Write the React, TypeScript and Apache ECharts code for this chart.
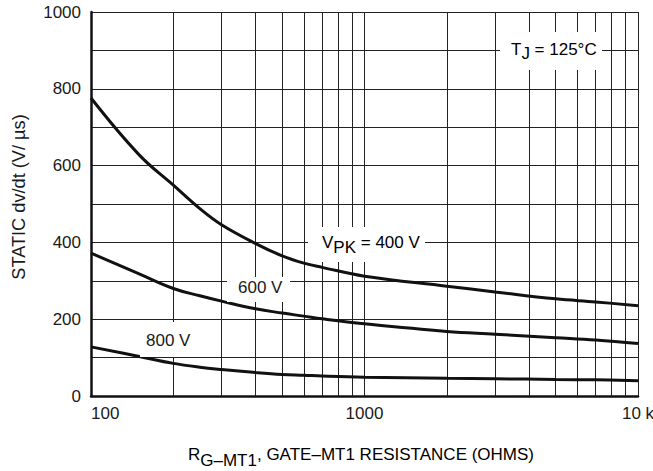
import React, { useEffect, useRef } from 'react';
import * as echarts from 'echarts';

// Gate–MT1 resistance (ohms)
const resistance = [100, 150, 200, 250, 300, 400, 500, 600, 700, 1000, 2000, 3000, 5000, 7000, 10000];
// Static dv/dt (V/µs) for each peak voltage
const dvdt400 = [776, 628, 549, 488, 446, 397, 365, 346, 335, 312, 286, 271, 253, 245, 235];
const dvdt600 = [372, 318, 280, 261, 247, 227, 216, 208, 201, 188, 168, 161, 152, 146, 137];
const dvdt800 = [128, 103, 85, 75, 69, 61, 56, 54, 52, 49, 46, 45, 43, 42, 40];

const minorGridX = [200, 300, 400, 500, 600, 700, 800, 900, 2000, 3000, 4000, 5000, 6000, 7000, 8000, 9000];
const yLabelStep = 200;
const xTickLabels: Record<number, string> = { 100: '100', 1000: '1000', 10000: '10 k' };

const FONT = '"Liberation Sans", Arial, Helvetica, sans-serif';
const INK = '#1a1a1a';

const pairs = (ys: number[]) => resistance.map((x, i) => [x, ys[i]]);

export default function App() {
  const ref = useRef<HTMLDivElement>(null);
  useEffect(() => {
    if (!ref.current) return;
    const chart = echarts.init(ref.current, undefined, { renderer: 'svg' });
    const curve = (name: string, ys: number[]) => ({
      name,
      type: 'line',
      data: pairs(ys),
      smooth: 0.4,
      showSymbol: false,
      symbol: 'none',
      z: 5,
      lineStyle: { color: '#111', width: 3 },
      silent: true,
    });
    const main = { fontSize: 17, fontFamily: FONT, color: INK, lineHeight: 17, verticalAlign: 'top' };
    const sub = (p: number) => ({ ...main, padding: [p, 0, 0, 0] });
    chart.setOption({
      animation: false,
      backgroundColor: '#fff',
      grid: { left: 91, right: 15, top: 12, bottom: 75, containLabel: false, outerBoundsMode: 'none' },
      xAxis: {
        type: 'log',
        logBase: 10,
        min: 100,
        max: 10000,
        axisLine: { show: true, onZero: false, lineStyle: { color: '#111', width: 2.5 } },
        axisTick: { show: false },
        minorTick: { show: false },
        axisLabel: {
          show: true,
          margin: 9,
          fontSize: 17,
          fontFamily: FONT,
          color: INK,
          alignMinLabel: 'left',
          alignMaxLabel: 'center',
          formatter: (v: number) => xTickLabels[Math.round(v)] ?? '',
        },
        splitLine: { show: true, lineStyle: { color: '#222', width: 1 } },
      },
      yAxis: {
        type: 'value',
        min: 0,
        max: 1000,
        interval: 100,
        axisLine: { show: true, onZero: false, lineStyle: { color: '#111', width: 2.5 } },
        axisTick: { show: false },
        axisLabel: {
          margin: 10,
          fontSize: 17,
          fontFamily: FONT,
          color: INK,
          formatter: (v: number) => (v % yLabelStep === 0 ? String(v) : ''),
        },
        splitLine: { show: true, lineStyle: { color: '#222', width: 1 } },
      },
      series: [
        {
          name: 'grid',
          type: 'line',
          data: [],
          z: 1,
          silent: true,
          markLine: {
            silent: true,
            symbol: ['none', 'none'],
            label: { show: false },
            lineStyle: { color: '#222', width: 1, type: 'solid' },
            emphasis: { disabled: true },
            data: minorGridX.map((v) => ({ xAxis: v })),
          },
        },
        curve('VPK = 400 V', dvdt400),
        curve('600 V', dvdt600),
        curve('800 V', dvdt800),
      ],
      graphic: [
        { type: 'rect', z: 20, shape: { x: 500, y: 32, width: 102, height: 38 }, style: { fill: '#fff' } },
        {
          type: 'text', z: 21, x: 511, y: 41.4,
          style: { text: '{n|T}{s|J}{n| = 125°C}', align: 'left', verticalAlign: 'top', rich: { n: main, s: sub(4) } },
        },
        { type: 'rect', z: 20, shape: { x: 308, y: 227, width: 117, height: 35 }, style: { fill: '#fff' } },
        {
          type: 'text', z: 21, x: 322, y: 234.4,
          style: { text: '{n|V}{s|PK}{n| = 400 V}', align: 'left', verticalAlign: 'top', rich: { n: main, s: sub(5) } },
        },
        { type: 'rect', z: 20, shape: { x: 227, y: 277, width: 63, height: 25 }, style: { fill: '#fff' } },
        {
          type: 'text', z: 21, x: 238, y: 279.4,
          style: { text: '600 V', align: 'left', verticalAlign: 'top', fontSize: 17, fontFamily: FONT, fill: INK },
        },
        { type: 'rect', z: 20, shape: { x: 140, y: 322, width: 57, height: 35 }, style: { fill: '#fff' } },
        {
          type: 'text', z: 21, x: 146, y: 332.4,
          style: { text: '800 V', align: 'left', verticalAlign: 'top', fontSize: 17, fontFamily: FONT, fill: INK },
        },
        {
          type: 'text', z: 21, x: 188, y: 446,
          style: {
            text: '{n|R}{s|G–MT1}{n|, GATE–MT1 RESISTANCE (OHMS)}',
            align: 'left', verticalAlign: 'top',
            rich: { n: main, s: sub(6) },
          },
        },
        {
          type: 'text', z: 21, x: 19, y: 197, rotation: Math.PI / 2,
          style: {
            text: 'STATIC dv/dt (V/ µs)',
            align: 'center', verticalAlign: 'middle',
            fontSize: 18.2, fontFamily: FONT, fill: INK,
          },
        },
      ],
    });
    return () => chart.dispose();
  }, []);
  return (
    <div
      ref={ref}
      style={{ position: 'fixed', left: 0, top: 0, width: 653, height: 471, background: '#fff' }}
    />
  );
}
